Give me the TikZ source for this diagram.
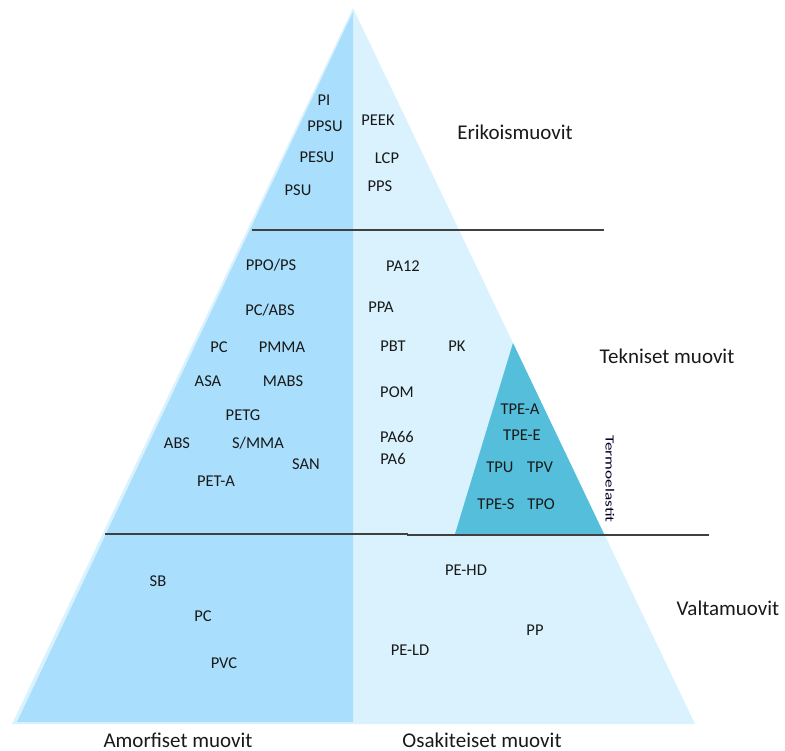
\documentclass[tikz,border=0pt]{standalone}
\usepackage{fontspec}
\setmainfont{Carlito}
\definecolor{amorf}{HTML}{A9DFFC}
\definecolor{osakit}{HTML}{DAF2FD}
\definecolor{tpe}{HTML}{55BFDB}
\definecolor{viiva}{HTML}{404040}
\tikzset{
  muovi/.style={inner sep=0pt, text height=0.64em, text depth=0pt, yshift=-2pt,
    font=\fontsize{16.5}{19}\selectfont, text=black!90},
  ryhma/.style={inner sep=0pt, font=\fontsize{21}{24}\selectfont, text=black!90},
  raja/.style={draw=viiva, line width=1.4pt}
}
\begin{document}
\begin{tikzpicture}[x=1pt, y=-1pt, line join=round]
		\useasboundingbox (0,0) rectangle (785,751);
		\coordinate (K) at (353,8);
		\coordinate (VA) at (12,724);
		\coordinate (OA) at (695,724);
		\coordinate (KK) at (353,12);
		\coordinate (KA) at (353,722);
		\coordinate (VA2) at (17,722);
		\coordinate (T) at (513,343);
		\coordinate (TV) at (455,534);
		\coordinate (TO) at (604,534);
		% pyramidi
		\fill[osakit] (K)--(VA)--(OA)--cycle;
		\fill[amorf] (KK)--(VA2)--(KA)--cycle;
		\fill[tpe] (T)--(TV)--(TO)--cycle;
		% rajat
		\coordinate (R1a) at (252,230);
		\coordinate (R1b) at (604,230);
		\coordinate (R2a) at (105,534);
		\coordinate (R2b) at (408,534);
		\coordinate (R2c) at (407,535);
		\coordinate (R2d) at (709,535);
		\draw[raja] (R1a)--(R1b);
		\draw[raja] (R2a)--(R2b) (R2c)--(R2d);
		% muovit
		\foreach \n/\x/\y/\t in {pi/324/100/PI, ppsu/325/126/PPSU, pesu/317/157/PESU, psu/298/190/PSU,
			peek/378/120/PEEK, lcp/387/158/LCP, pps/380/186/PPS,
			ppops/271/265/{PPO/PS}, pcabs/270/310/{PC/ABS}, pc/219/347/PC, pmma/282/347/PMMA,
			asa/208/381/ASA, mabs/283/381/MABS, petg/243/415/PETG, abs/177/443/ABS,
			smma/258/443/{S/MMA}, san/306/464/SAN, peta/216/481/PET-A,
			pa12/403/266/PA12, ppa/381/307/PPA, pbt/393/346/PBT, pk/457/346/PK,
			pom/397/392/POM, pa66/397/437/PA66, pa6/393/459/PA6,
			tpea/520/409/TPE-A, tpee/522/435/TPE-E, tpu/500/467/TPU, tpv/540/467/TPV,
			tpes/496/504/TPE-S, tpo/541/504/TPO,
			sb/158/581/SB, pcv/203/616/PC, pvc/224/663/PVC,
			pehd/466/570/PE-HD, peld/410/650/PE-LD, pp/535/630/PP}
		\node[muovi] (\n) at (\x,\y) {\t};
		% ryhmat
		\foreach \n/\x/\y/\t in {erikois/515/132/Erikoismuovit, tekniset/667/356/{Tekniset muovit},
			valta/728/608/Valtamuovit, amorfiset/178/740/{Amorfiset muovit},
			osakiteiset/482/740/{Osakiteiset muovit}}
		\node[ryhma] (\n) at (\x,\y) {\t};
		\node[inner sep=0pt, rotate=-90, xscale=1.38, text=black!85!blue,
			font=\fontsize{12.5}{14}\selectfont] (termo) at (610,479) {Termoelastit};
	\end{tikzpicture}
\end{document}
